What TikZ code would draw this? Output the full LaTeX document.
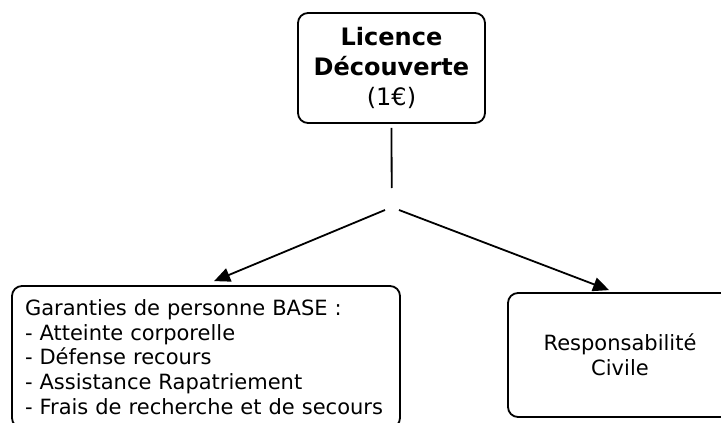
\documentclass[tikz,border=0pt]{standalone}
\usepackage{fontspec}
\setmainfont{DejaVu Sans}
\usetikzlibrary{arrows.meta,calc}
\begin{document}
\begin{tikzpicture}[x=1pt,y=-1pt,
  box/.style={draw=black, line width=1.8pt, rounded corners=10pt, inner sep=0pt},
  conn/.style={line width=1.8pt},
  arr/.style={conn, -{Triangle[length=16pt,width=14pt]}}]
\useasboundingbox[fill=white] (0,0) rectangle (721,423);
\node[box, minimum width=187pt, minimum height=110pt, align=center,
      font=\fontsize{24}{30}\selectfont] (lic) at (391.5,68)
  {\textbf{Licence}\\\textbf{Découverte}\\(1€)};
\node[box, minimum width=388pt, minimum height=142pt, text width=362pt, align=left,
      font=\fontsize{21}{24.8}\selectfont] (gar) at (206,357)
  {Garanties de personne BASE :\\- Atteinte corporelle\\- Défense recours\\- Assistance Rapatriement\\- Frais de recherche et de secours};
\node[box, minimum width=224pt, minimum height=124pt, align=center,
      font=\fontsize{21}{25}\selectfont] (rc) at (620,355)
  {Responsabilité\\Civile};
\coordinate (v) at (391.7,188);
\coordinate (la) at (385,210);
\coordinate (ra) at (399,210);
\draw[conn] ([yshift=-4pt]lic.south) -- (v);
\draw[arr] (la) -- ($(gar.north west)+(203,-4)$);
\draw[arr] (ra) -- ($(rc.north west)+(102,-2)$);
\end{tikzpicture}
\end{document}
